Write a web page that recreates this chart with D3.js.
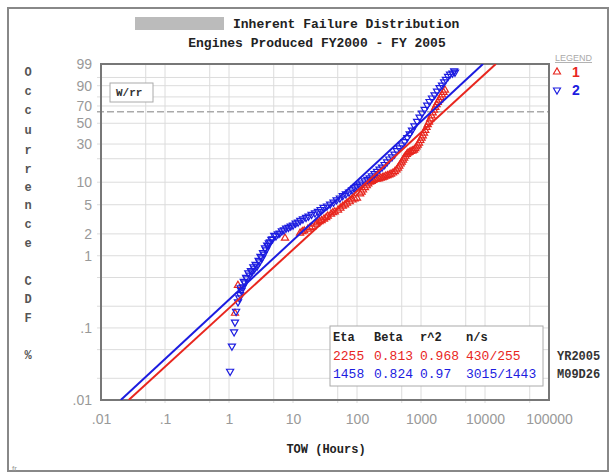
<!DOCTYPE html>
<html>
<head>
<meta charset="utf-8">
<script src="https://cdn.jsdelivr.net/npm/d3@7"></script>
<style>
  body { margin: 0; background: #fff; }
  svg { display: block; }
  .mono { font-family: "Liberation Mono", "DejaVu Sans Mono", monospace; }
  .tick text { font-family: "Liberation Sans", Arial, sans-serif; font-size: 14px; fill: #999; }
</style>
</head>
<body>
<svg id="chart" width="611" height="476"></svg>
<script>
// tick values and labels
var xTickValues = [0.01, 0.1, 1, 10, 100, 1000, 10000, 100000];
var xTickLabels = [".01", ".1", "1", "10", "100", "1000", "10000", "100000"];
var xGridValues = [0.05, 0.1, 0.5, 1, 5, 10, 50, 100, 500, 1000, 5000, 10000, 50000];
var yTickValues = [99, 90, 70, 50, 30, 10, 5, 2, 1, 0.1, 0.01];
var yTickLabels = ["99", "90", "70", "50", "30", "10", "5", "2", "1", ".1", ".01"];
var yGridValues = [95, 90, 80, 70, 50, 30, 20, 10, 5, 2, 1, 0.5, 0.2, 0.1, 0.05, 0.02];

// fit results per series
var seriesNames = ["1", "2"];
var seriesColors = ["#e8261e", "#1c1ce0"];
var eta = [2255, 1458];
var beta = [0.813, 0.824];
var rSquared = ["0.968", "0.97"];
var nOverS = ["430/255", "3015/1443"];

// series 1 (red) - hours and cumulative percent
var hours1 = [1.24, 1.38, 7.5, 12.9, 15, 17.1, 20, 22.9, 26, 30.5, 35, 39.2, 45, 50.5, 60, 69.8, 85, 100, 112, 124,
  142, 160, 180, 205, 235, 264, 300, 340, 390, 437, 480, 523, 570, 626, 700, 778, 850, 931, 1020, 1114,
  1220, 1334, 1460, 1597, 1750, 1911, 2130, 2371,
  14, 18.5, 24, 28, 33, 42, 55, 65, 77, 92, 118, 133, 150, 170, 192, 220, 250, 282, 320, 365,
  415, 458, 500, 545, 600, 660, 740, 815, 890, 975, 1065, 1165, 1275, 1395, 1525, 1670, 1830, 2020, 2250];
var pct1 = [0.16, 0.39, 1.75, 2.05, 2.2, 2.33, 2.5, 2.73, 2.95, 3.2, 3.5, 3.74, 4.0, 4.24, 4.8, 5.27, 5.8, 6.15, 7.0, 7.9,
  9.0, 10.05, 10.6, 11.0, 11.3, 11.7, 12.2, 12.8, 13.8, 15.3, 17.2, 19.3, 21.5, 23.5, 24.6, 25.5, 27.8, 30.8, 35, 39.7,
  45.5, 51.3, 58.5, 65.2, 71.5, 76.7, 82, 86.5,
  2.15, 2.45, 2.85, 3.05, 3.35, 3.9, 4.5, 5.0, 5.5, 6.0, 7.4, 8.5, 9.5, 10.3, 10.9, 11.1, 11.5, 12.0, 12.5, 13.2,
  14.5, 16.2, 18.2, 20.4, 22.6, 24.0, 25.0, 26.5, 29.2, 33, 37.2, 42.5, 48.5, 55, 62, 68.5, 74, 79.5, 84.5];

// series 2 (blue)
var hours2 = [1.04, 1.11, 1.20, 1.24, 1.29, 1.38, 1.45, 1.49, 1.56, 1.65, 1.78, 1.91, 2.1, 2.29, 2.5, 2.74, 3.0, 3.28, 3.5, 3.79,
  4.1, 4.37, 4.8, 5.42, 6.2, 7.23, 8.5, 10, 12, 14.3, 17.5, 22.1, 27, 34, 43, 54, 67, 83.5, 100, 120,
  145, 171, 205, 246, 295, 352, 420, 505, 610, 723, 870, 1037, 1250, 1486, 1780, 2130, 2450, 2840, 3400,
  1.52, 1.7, 1.85, 2.0, 2.2, 2.4, 2.6, 2.9, 3.1, 3.4, 3.65, 3.95, 4.2, 4.6, 5.1, 5.8, 6.7, 7.8, 9.2, 11,
  13, 16, 19.5, 24.5, 30, 38, 48, 60, 75, 92, 110, 132, 158, 188, 225, 270, 320, 385, 460, 555,
  665, 790, 950, 1140, 1360, 1630, 1950, 2300, 2650, 3100, 3300];
var pct2 = [0.025, 0.056, 0.088, 0.12, 0.17, 0.23, 0.26, 0.29, 0.33, 0.37, 0.42, 0.48, 0.54, 0.60, 0.66, 0.72, 0.82, 0.93, 1.05, 1.2,
  1.38, 1.55, 1.7, 1.87, 2.05, 2.26, 2.45, 2.64, 2.9, 3.2, 3.5, 3.86, 4.3, 4.8, 5.4, 6.15, 7.0, 7.9, 8.8, 9.75,
  10.9, 12.05, 13.8, 15.7, 18.2, 21, 25, 29.2, 35.5, 42.7, 52, 61.7, 71, 78.8, 85.5, 90.4, 94, 96.4, 97.1,
  0.36, 0.44, 0.50, 0.58, 0.62, 0.70, 0.76, 0.86, 0.98, 1.1, 1.28, 1.4, 1.5, 1.68, 1.9, 2.0, 2.2, 2.4, 2.55, 2.8,
  3.05, 3.35, 3.7, 4.05, 4.6, 5.1, 5.8, 6.6, 7.4, 8.4, 9.2, 10.4, 11.4, 12.9, 14.8, 16.9, 19.8, 22.8, 27, 32,
  39, 47, 57, 66, 75, 82, 88.5, 92.5, 95.5, 96.8, 97.5];

var svg = d3.select("#chart");
var plotLeft = 101, plotRight = 549, plotTop = 64, plotBottom = 400;

// weibull probability transform
var weib = function(p) { return Math.log(-Math.log(1 - p / 100)); };

var x = d3.scaleLog().domain([0.01, 100000]).range([plotLeft, plotRight]);
var yLin = d3.scaleLinear().domain([weib(0.01), weib(99)]).range([plotBottom, plotTop]);
var y = function(p) { return yLin(weib(p)); };

// outer frame
svg.append("rect").attr("x", 8).attr("y", 8).attr("width", 600).attr("height", 463)
  .attr("fill", "#fff").attr("stroke", "#888").attr("stroke-width", 2);

// titles
svg.append("rect").attr("x", 135).attr("y", 17).attr("width", 89).attr("height", 13).attr("fill", "#bbb");
svg.append("text").attr("class", "mono").attr("x", 233).attr("y", 28)
  .style("font-size", "13px").style("font-weight", "bold").attr("fill", "#222")
  .text("Inherent Failure Distribution");
svg.append("text").attr("class", "mono").attr("x", 317).attr("y", 47).attr("text-anchor", "middle")
  .style("font-size", "13px").style("font-weight", "bold").attr("fill", "#222")
  .text("Engines Produced FY2000 - FY 2005");

// vertical axis title, one letter per line
var yTitle = "Occurrence CDF %";
var yTitleRows = [72, 91, 110, 130, 150, 169, 187, 205, 224, 243, 262, 281, 299, 318, 337, 355];
yTitle.split("").forEach(function(ch, i) {
  if (ch === " ") return;
  svg.append("text").attr("class", "mono").attr("x", 28).attr("y", yTitleRows[i] + 4)
    .attr("text-anchor", "middle").style("font-size", "12px").style("font-weight", "bold")
    .attr("fill", "#555").text(ch);
});

// grid
var grid = svg.append("g").attr("stroke", "#dcdcdc").attr("stroke-width", 1);
grid.selectAll(".gx").data(xGridValues).enter().append("line")
  .attr("x1", function(d) { return x(d); }).attr("x2", function(d) { return x(d); })
  .attr("y1", plotTop).attr("y2", plotBottom + 3);
grid.selectAll(".gy").data(yGridValues).enter().append("line")
  .attr("x1", plotLeft - 4).attr("x2", plotRight)
  .attr("y1", function(d) { return y(d); }).attr("y2", function(d) { return y(d); });

// 63.2% characteristic life line
svg.append("line").attr("x1", plotLeft - 4).attr("x2", plotRight)
  .attr("y1", y(63.2)).attr("y2", y(63.2))
  .attr("stroke", "#aaa").attr("stroke-width", 1.5).attr("stroke-dasharray", "7,3");

// plot frame
svg.append("rect").attr("x", plotLeft).attr("y", plotTop)
  .attr("width", plotRight - plotLeft).attr("height", plotBottom - plotTop)
  .attr("fill", "none").attr("stroke", "#777").attr("stroke-width", 2);

// axes (labels only)
var xAxis = d3.axisBottom(x).tickValues(xTickValues).tickSize(0).tickPadding(14)
  .tickFormat(function(d, i) { return xTickLabels[i]; });
svg.append("g").attr("transform", "translate(0," + plotBottom + ")").call(xAxis)
  .call(function(g) { g.select(".domain").remove(); });

var yAxis = d3.axisLeft(yLin).tickValues(yTickValues.map(weib)).tickSize(0).tickPadding(9)
  .tickFormat(function(d, i) { return yTickLabels[i]; });
svg.append("g").attr("transform", "translate(" + plotLeft + ",0)").call(yAxis)
  .call(function(g) { g.select(".domain").remove(); });

svg.append("text").attr("class", "mono").attr("x", 326).attr("y", 453).attr("text-anchor", "middle")
  .style("font-size", "12px").style("font-weight", "bold").attr("fill", "#222").text("TOW (Hours)");

// W/rr box
svg.append("rect").attr("x", 110).attr("y", 83).attr("width", 43).attr("height", 19)
  .attr("fill", "#fff").attr("stroke", "#aaa");
svg.append("text").attr("class", "mono").attr("x", 116).attr("y", 96)
  .style("font-size", "11px").style("font-weight", "bold").attr("fill", "#333").text("W/rr");

// clip for plot area
svg.append("clipPath").attr("id", "plotclip").append("rect")
  .attr("x", plotLeft).attr("y", plotTop).attr("width", plotRight - plotLeft).attr("height", plotBottom - plotTop);
var plot = svg.append("g").attr("clip-path", "url(#plotclip)");

// data points
var tri = d3.symbol().type(d3.symbolTriangle).size(22);
var pointSets = [
  { h: hours1, p: pct1, rot: 0 },
  { h: hours2, p: pct2, rot: 180 }
];
pointSets.forEach(function(s, k) {
  plot.append("g").selectAll("path").data(s.h).enter().append("path")
    .attr("d", tri)
    .attr("transform", function(d, i) {
      return "translate(" + x(d) + "," + y(s.p[i]) + ") rotate(" + s.rot + ")";
    })
    .attr("fill", "none").attr("stroke", seriesColors[k]).attr("stroke-width", 1.2);
});

// weibull fit lines
seriesNames.forEach(function(name, k) {
  var tAt = function(p) { return eta[k] * Math.exp(weib(p) / beta[k]); };
  plot.append("line")
    .attr("x1", x(tAt(0.01))).attr("y1", y(0.01))
    .attr("x2", x(tAt(99))).attr("y2", y(99))
    .attr("stroke", seriesColors[k]).attr("stroke-width", 2);
});

// stats box
svg.append("rect").attr("x", 330).attr("y", 326).attr("width", 213).attr("height", 60)
  .attr("fill", "#fff").attr("stroke", "#aaa");
var cols = [333, 374, 420, 466];
["Eta", "Beta", "r^2", "n/s"].forEach(function(h, i) {
  svg.append("text").attr("class", "mono").attr("x", cols[i]).attr("y", 341)
    .style("font-size", "12px").style("font-weight", "bold").attr("fill", "#222").text(h);
});
seriesNames.forEach(function(name, k) {
  var row = [String(eta[k]), beta[k].toFixed(3), rSquared[k], nOverS[k]];
  row.forEach(function(v, i) {
    svg.append("text").attr("class", "mono").attr("x", cols[i]).attr("y", 360 + k * 18)
      .style("font-size", "13px").attr("fill", seriesColors[k]).text(v);
  });
});
svg.append("text").attr("class", "mono").attr("x", 557).attr("y", 360)
  .style("font-size", "12px").style("font-weight", "bold").attr("fill", "#333").text("YR2005");
svg.append("text").attr("class", "mono").attr("x", 557).attr("y", 378)
  .style("font-size", "12px").style("font-weight", "bold").attr("fill", "#333").text("M09D26");

// legend
svg.append("text").attr("x", 555).attr("y", 61)
  .style("font-family", "Liberation Sans, Arial, sans-serif").style("font-size", "9px")
  .style("text-decoration", "underline").attr("fill", "#aaa").text("LEGEND");
seriesNames.forEach(function(name, k) {
  var ly = 72 + k * 18;
  svg.append("path").attr("d", tri)
    .attr("transform", "translate(557," + ly + ") rotate(" + (k === 0 ? 0 : 180) + ")")
    .attr("fill", "none").attr("stroke", seriesColors[k]).attr("stroke-width", 1.1);
  svg.append("text").attr("x", 572).attr("y", ly + 5)
    .style("font-family", "Liberation Sans, Arial, sans-serif").style("font-size", "14px")
    .style("font-weight", "bold").attr("fill", seriesColors[k]).text(name);
});

svg.append("text").attr("x", 12).attr("y", 471)
  .style("font-family", "Liberation Sans, Arial, sans-serif").style("font-size", "8px")
  .attr("fill", "#999").text("fr");
</script>
</body>
</html>
